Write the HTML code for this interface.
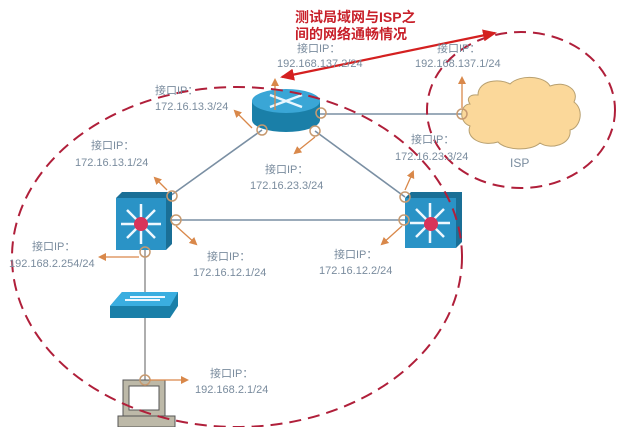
<!DOCTYPE html>
<html><head><meta charset="utf-8"><style>
html,body{margin:0;padding:0;background:#fff;}
svg{display:block;}
.l{font-family:"Liberation Sans","Noto Sans CJK SC",sans-serif;font-size:11px;fill:#7a8c9e;}
</style></head><body>
<svg width="641" height="427" viewBox="0 0 641 427" xmlns="http://www.w3.org/2000/svg">
<defs>
<marker id="oa" markerWidth="8" markerHeight="8" refX="6" refY="4" orient="auto" markerUnits="userSpaceOnUse"><path d="M0,0 L8,4 L0,8 Z" fill="#d9884a"/></marker>
<marker id="ra" markerWidth="14" markerHeight="12" refX="12" refY="6" orient="auto" markerUnits="userSpaceOnUse"><path d="M0,0 L14,6 L0,12 Z" fill="#d42020"/></marker>
<marker id="rb" markerWidth="14" markerHeight="12" refX="2" refY="6" orient="auto" markerUnits="userSpaceOnUse"><path d="M14,0 L0,6 L14,12 Z" fill="#d42020"/></marker>
</defs>
<g stroke="#7a8fa3" stroke-width="1.6" fill="none">
<line x1="262" y1="130" x2="170" y2="196"/>
<line x1="315" y1="131" x2="405" y2="197"/>
<line x1="172" y1="220" x2="405" y2="220"/>
<line x1="320" y1="114" x2="465" y2="114"/>
<line x1="145" y1="250" x2="145" y2="380" stroke="#999"/>
</g>
<path d="M478,95 C478,80 500,78 510,84 C520,74 545,76 550,86 C565,80 580,90 574,102 C585,110 580,128 570,130 C572,145 550,150 540,143 C530,152 505,150 498,142 C482,147 465,138 470,126 C458,122 460,104 470,104 C466,98 470,94 478,95 Z" fill="#fbd89a" stroke="#b8a070" stroke-width="1"/>
<text x="510" y="167" class="l" style="font-size:12px">ISP</text>
<path d="M252,101 L252,120 A34,12 0 0 0 320,120 L320,101 Z" fill="#1a7fa8"/>
<ellipse cx="286" cy="101" rx="34" ry="12" fill="#3aa6d6"/>
<g stroke="#e8f6ff" stroke-width="2.5"><line x1="270" y1="95" x2="302" y2="107"/><line x1="270" y1="107" x2="302" y2="95"/></g>
<path d="M116,198 L122,192 L172,192 L172,244 L166,250 Z" fill="#1a6f96"/>
<rect x="116" y="198" width="50" height="52" fill="#2a93c6"/>
<g stroke="#eef8ff" stroke-width="2.5"><line x1="141" y1="204" x2="141" y2="244"/><line x1="121" y1="224" x2="161" y2="224"/><line x1="127" y1="210" x2="155" y2="238"/><line x1="155" y1="210" x2="127" y2="238"/></g>
<circle cx="141" cy="224" r="7" fill="#d8345a"/>
<path d="M405,198 L411,192 L462,192 L462,242 L456,248 Z" fill="#1a6f96"/>
<rect x="405" y="198" width="51" height="50" fill="#2a93c6"/>
<g stroke="#eef8ff" stroke-width="2.5"><line x1="430" y1="203" x2="430" y2="243"/><line x1="410" y1="223" x2="450" y2="223"/><line x1="416" y1="209" x2="444" y2="237"/><line x1="444" y1="209" x2="416" y2="237"/></g>
<circle cx="431" cy="224" r="7" fill="#d8345a"/>
<path d="M110,306 L122,292 L178,292 L178,306 L170,318 L110,318 Z" fill="#1a7fa8"/>
<path d="M110,306 L122,292 L178,292 L170,306 Z" fill="#3aaee0"/>
<g stroke="#eef8ff" stroke-width="2"><line x1="125" y1="300" x2="160" y2="300"/><line x1="130" y1="297" x2="165" y2="297"/></g>
<rect x="123" y="380" width="42" height="36" fill="#bdb9a8" stroke="#555" stroke-width="1"/>
<rect x="129" y="386" width="30" height="24" fill="#fff" stroke="#555" stroke-width="1"/>
<rect x="118" y="416" width="57" height="11" fill="#bdb9a8" stroke="#555" stroke-width="1"/>
<g fill="none" stroke="#c79a70" stroke-width="1.5">
<circle cx="262" cy="130" r="5"/><circle cx="321" cy="113" r="5"/><circle cx="315" cy="131" r="5"/>
<circle cx="172" cy="196" r="5"/><circle cx="176" cy="220" r="5"/><circle cx="145" cy="252" r="5"/>
<circle cx="405" cy="197" r="5"/><circle cx="404" cy="220" r="5"/><circle cx="462" cy="114" r="5"/>
<circle cx="145" cy="380" r="5"/>
</g>
<g stroke="#d9884a" stroke-width="1.3" marker-end="url(#oa)">
<line x1="275" y1="110" x2="275" y2="80"/>
<line x1="462" y1="108" x2="462" y2="78"/>
<line x1="252" y1="128" x2="235" y2="111"/>
<line x1="315" y1="137" x2="295" y2="153"/>
<line x1="167" y1="190" x2="155" y2="178"/>
<line x1="176" y1="226" x2="196" y2="244"/>
<line x1="139" y1="257" x2="100" y2="257"/>
<line x1="405" y1="190" x2="413" y2="172"/>
<line x1="402" y1="226" x2="382" y2="244"/>
<line x1="150" y1="380" x2="187" y2="380"/>
</g>
<ellipse cx="237" cy="257" rx="225" ry="170" fill="none" stroke="#b01f3a" stroke-width="2" stroke-dasharray="12,7"/>
<ellipse cx="521" cy="110" rx="94" ry="78" fill="none" stroke="#b01f3a" stroke-width="2" stroke-dasharray="12,7"/>
<line x1="282" y1="77" x2="495" y2="33" stroke="#d42020" stroke-width="2.2" marker-end="url(#ra)" marker-start="url(#rb)"/>
<text x="295" y="22" style="font-family:'Liberation Sans','Noto Sans CJK SC',sans-serif;font-size:14px;font-weight:bold;fill:#c8202a">测试局域网与ISP之</text>
<text x="295" y="39" style="font-family:'Liberation Sans','Noto Sans CJK SC',sans-serif;font-size:14px;font-weight:bold;fill:#c8202a">间的网络通畅情况</text>
<text class="l" x="297" y="52">接口IP：</text><text class="l" x="277" y="67">192.168.137.2/24</text>
<text class="l" x="437" y="52">接口IP：</text><text class="l" x="415" y="67">192.168.137.1/24</text>
<text class="l" x="155" y="94">接口IP：</text><text class="l" x="155" y="110">172.16.13.3/24</text>
<text class="l" x="91" y="149">接口IP：</text><text class="l" x="75" y="166">172.16.13.1/24</text>
<text class="l" x="265" y="173">接口IP：</text><text class="l" x="250" y="189">172.16.23.3/24</text>
<text class="l" x="411" y="143">接口IP：</text><text class="l" x="395" y="160">172.16.23.3/24</text>
<text class="l" x="32" y="250">接口IP：</text><text class="l" x="9" y="267">192.168.2.254/24</text>
<text class="l" x="207" y="260">接口IP：</text><text class="l" x="193" y="276">172.16.12.1/24</text>
<text class="l" x="334" y="258">接口IP：</text><text class="l" x="319" y="274">172.16.12.2/24</text>
<text class="l" x="210" y="377">接口IP：</text><text class="l" x="195" y="393">192.168.2.1/24</text>
</svg>
</body></html>
